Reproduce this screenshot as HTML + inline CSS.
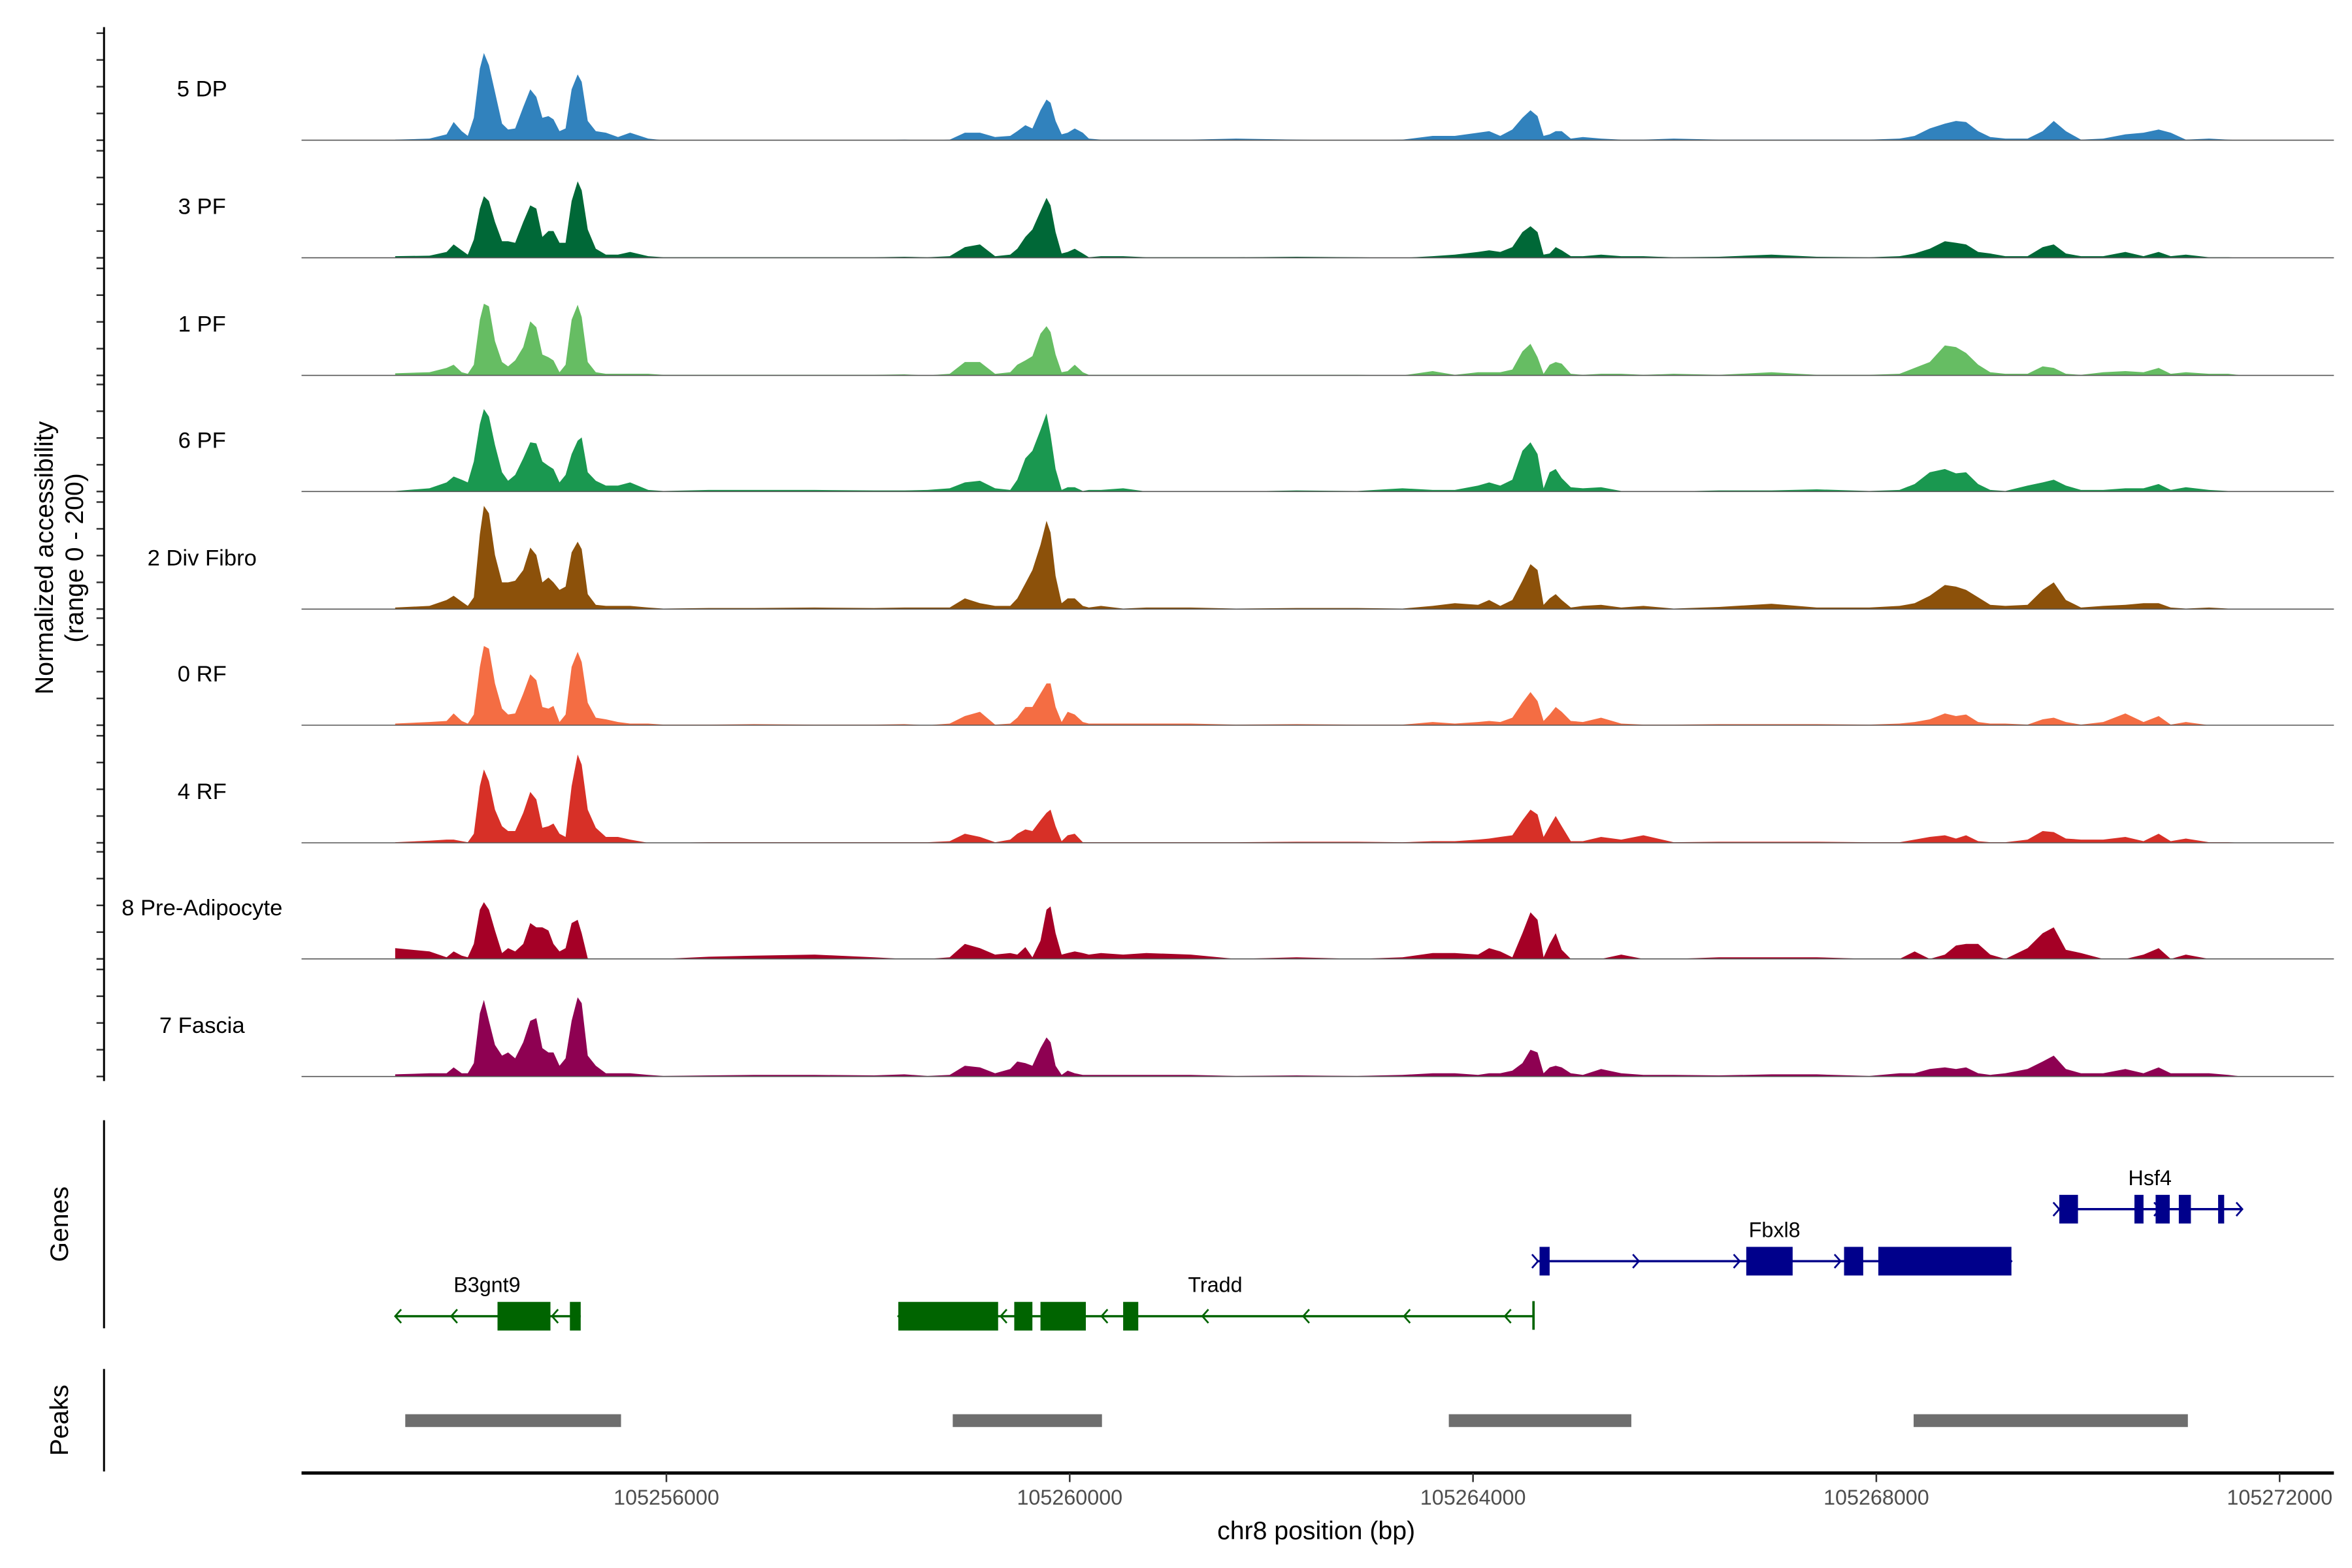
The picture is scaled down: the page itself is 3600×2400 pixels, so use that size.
<!DOCTYPE html>
<html><head><meta charset="utf-8"><style>
html,body{margin:0;padding:0;background:#fff;}
svg{display:block;}
text{font-family:"Liberation Sans",Arial,sans-serif;}
</style></head><body>
<svg id="chart" xmlns="http://www.w3.org/2000/svg" width="3600" height="2400" viewBox="0 0 1560 1040">
<rect x="0" y="0" width="1560" height="1040" fill="#fff"/>
<g id="tracks"></g>
<g id="genes"></g>
<g id="peaks"></g>
<g id="axes"></g>
</svg>
<script>
const positions = [105253310,105253650,105253820,105253890,105253970,105254030,105254090,105254150,105254190,105254240,105254300,105254370,105254430,105254500,105254580,105254650,105254710,105254770,105254830,105254880,105254940,105255000,105255060,105255120,105255160,105255220,105255300,105255400,105255520,105255640,105255820,105255970,
105256420,105256870,105257470,105258060,105258360,
105258590,105258810,105258960,105259110,105259260,105259410,105259480,105259560,105259630,105259710,105259770,105259810,105259860,105259920,105259980,105260050,105260130,105260190,105260310,105260530,105260760,105261200,105261650,
105262250,105262850,
105263300,105263600,105263820,105264050,105264160,105264270,105264390,105264490,105264570,105264640,105264700,105264760,105264820,105264880,105264970,105265090,105265270,105265470,105265690,105265990,
105266440,105266960,105267410,
105267930,105268230,105268380,105268530,105268680,105268790,105268890,105269010,105269130,105269280,105269500,105269650,105269760,105269880,105270030,105270250,105270470,105270650,105270800,105270920,105271070,105271300,105271490,105271630];

const trackNames = ["5 DP","3 PF","1 PF","6 PF","2 Div Fibro","0 RF","4 RF","8 Pre-Adipocyte","7 Fascia"];
const trackColors = ["#3182BD","#006837","#66BD63","#1A9850","#8C510A","#F46D43","#D73027","#A50026","#8E0152"];

const dp5 = [1,3,11,34,17,8,42,134,163,140,90,31,20,22,62,95,81,42,45,39,17,22,95,123,109,36,17,14,6,14,3,0,
0,0,0,0,1,
0,1,14,14,6,8,17,28,22,56,76,70,36,11,14,22,14,3,1,1,1,1,3,
1,0,
1,8,8,14,17,8,20,42,56,45,8,11,17,17,3,6,3,1,1,3,
1,1,1,
1,3,8,22,31,36,34,17,6,3,3,17,36,17,1,3,11,14,20,14,1,3,1,0];
const pf3 = [3,4,11,25,14,6,34,92,115,106,67,31,31,28,67,98,92,39,50,50,28,28,106,143,126,53,17,6,6,11,3,1,
1,1,1,1,2,
1,3,20,25,3,6,17,39,53,87,112,98,48,8,11,17,8,1,3,3,1,1,1,
2,1,
0,3,6,11,14,11,20,48,59,48,6,8,20,14,3,3,6,3,3,1,
2,6,2,
1,3,8,17,31,28,25,11,8,3,3,20,25,8,3,3,11,3,11,3,6,1,1,0];
const pf1 = [4,6,14,20,6,3,20,104,134,129,64,25,17,28,53,101,90,39,34,28,6,20,104,132,109,25,6,3,3,3,3,1,
1,1,1,1,2,
0,3,25,25,3,6,20,28,36,78,92,81,39,6,8,20,6,1,1,1,1,1,1,
1,1,
0,8,1,6,6,6,11,45,59,34,3,20,25,22,3,1,3,3,1,3,
1,6,1,
1,3,14,25,56,53,42,20,6,3,3,17,14,3,1,6,8,6,14,3,6,3,3,0];
const pf6 = [1,6,17,28,22,17,56,126,154,140,87,36,20,31,62,92,90,56,48,42,17,31,70,95,101,36,20,11,11,17,3,1,
3,3,3,2,2,
3,6,17,20,6,3,22,62,76,115,146,106,42,3,8,8,1,3,3,6,0,0,0,
2,1,
6,3,3,11,17,11,22,76,92,70,6,36,42,25,8,6,8,1,0,0,
2,2,4,
1,3,14,36,42,34,36,14,3,1,11,17,22,11,3,3,6,6,14,3,8,3,1,0];
const divFibro2 = [3,6,17,25,14,6,22,140,193,179,101,50,50,53,73,115,101,50,59,50,36,42,106,126,112,28,8,6,6,6,3,1,
2,2,3,2,3,
3,3,20,11,6,6,20,48,73,120,165,143,62,11,20,20,6,3,6,1,3,3,1,
2,2,
1,6,11,8,17,6,17,53,84,73,8,20,28,17,3,6,8,3,6,1,
4,10,3,
3,6,11,25,45,42,36,22,8,6,8,36,50,17,3,6,8,11,11,3,1,3,1,0];
const rf0 = [3,6,8,22,8,3,20,109,148,143,78,31,20,22,59,95,84,34,31,36,6,20,109,137,118,42,14,11,6,3,3,1,
1,2,1,1,2,
0,3,17,25,1,3,14,34,34,59,78,78,34,6,25,20,6,3,3,3,3,3,1,
2,1,
1,6,3,6,8,6,14,42,62,45,8,20,34,25,8,6,14,3,1,1,
2,2,2,
1,3,6,11,22,17,20,6,3,3,1,11,14,6,1,6,22,6,17,1,6,0,0,0];
const rf4 = [1,4,6,6,3,1,17,106,137,115,62,31,22,22,56,95,81,28,31,36,17,11,106,165,146,62,28,11,11,6,0,0,
1,1,1,1,1,
1,3,17,11,1,6,17,25,22,42,56,62,31,3,14,17,1,1,1,1,1,1,1,
2,2,
1,3,3,6,8,11,14,42,62,53,11,31,50,31,3,3,11,6,14,1,
2,2,2,
1,1,6,11,14,8,14,3,1,1,6,22,20,8,6,6,11,3,17,3,8,1,1,0];
const preAdipocyte8 = [20,14,3,14,6,3,28,92,106,92,53,11,20,14,28,67,59,59,53,28,14,20,67,73,48,1,0,0,0,0,0,0,
4,6,8,3,0,
0,3,28,20,8,11,8,22,3,34,92,98,48,8,11,14,11,8,11,8,11,8,0,
3,0,
3,11,11,8,20,14,3,48,87,73,3,28,48,17,0,0,0,8,0,0,
3,3,3,
0,0,14,0,8,25,28,28,8,0,20,48,59,17,11,0,0,8,20,0,8,0,0,0];
const fascia7 = [4,6,6,17,6,6,25,118,143,104,59,39,45,34,64,104,109,53,45,45,20,34,104,148,137,39,20,6,6,6,3,1,
2,3,3,2,4,
1,3,20,17,6,14,28,25,20,53,73,64,20,3,11,6,3,3,3,3,3,3,1,
2,1,
3,6,6,3,6,6,11,25,50,45,6,17,20,17,6,3,14,6,3,3,
2,4,4,
1,6,6,14,17,14,17,6,3,6,14,28,39,14,6,6,14,6,17,6,6,6,3,0];
const trackValues = [dp5,pf3,pf1,pf6,divFibro2,rf0,rf4,preAdipocyte8,fascia7];

const xTicks = [105256000,105260000,105264000,105268000,105272000];
const xTickLabels = ["105256000","105260000","105264000","105268000","105272000"];
const yMax = 200;
const yTickValues = [0,50,100,150,200];

const geneNames = ["B3gnt9","Tradd","Fbxl8","Hsf4"];
const geneStarts = [105253310,105258300,105264630,105269800];
const geneEnds = [105255150,105264600,105269340,105271630];
const geneStrands = ["-","-","+","+"];
const geneRows = [0,0,1,2];
const geneExons = [
  [[105254325,105254850],[105255043,105255150]],
  [[105258300,105259290],[105259450,105259630],[105259710,105260160],[105260530,105260680]],
  [[105264660,105264760],[105266710,105267170],[105267680,105267870],[105268020,105269340]],
  [[105269815,105270000],[105270560,105270650],[105270770,105270910],[105271000,105271120],[105271390,105271450]]
];
const geneColors = {"-":"#006400","+":"#00008B"};
const peakStarts = [105253410,105258840,105263760,105268370];
const peakEnds = [105255550,105260320,105265570,105271090];

const NS = "http://www.w3.org/2000/svg";
function mk(tag, attrs, parent){const e=document.createElementNS(NS,tag);for(const k in attrs)e.setAttribute(k,attrs[k]);parent.appendChild(e);return e;}
function xScale(bp){return 442 + (bp-105256000)*267.5/4000;}
const baselines = [93,171,249,326,404,481,559,636,714];
const panelH = 71;
function yScale(v,i){return baselines[i] - v/yMax*panelH;}

const tracksG = document.getElementById('tracks');
const axesG = document.getElementById('axes');

trackValues.forEach((vals,i)=>{
  const g = mk('g',{},tracksG);
  
  
  let d = 'M'+xScale(positions[0]).toFixed(2)+','+baselines[i];
  vals.forEach((v,j)=>{ d += ' L'+xScale(positions[j]).toFixed(2)+','+yScale(v,i).toFixed(2); });
  d += ' L'+xScale(positions[positions.length-1]).toFixed(2)+','+baselines[i]+' Z';
  const p = mk('path',{d:d,fill:trackColors[i],stroke:'none'},g);
  
  
  const bl = mk('line',{x1:200,x2:1548,y1:baselines[i],y2:baselines[i],stroke:'#555','stroke-width':0.7},g);
  
  
  const t = mk('text',{x:134,y:baselines[i]-29,'text-anchor':'middle','font-size':15,fill:'#000'},g);
  t.textContent = trackNames[i];
  
  
  yTickValues.forEach(tv=>{
    const tk = mk('line',{x1:64,x2:69,y1:yScale(tv,i),y2:yScale(tv,i),stroke:'#333','stroke-width':1.1},axesG);
    
    
  });
});

let ya = mk('line',{x1:69,x2:69,y1:18,y2:717,stroke:'#000','stroke-width':1.3},axesG);


let yt = mk('text',{transform:'translate(35,370) rotate(-90)','text-anchor':'middle','font-size':17,fill:'#000'},axesG);
yt.textContent='Normalized accessibility';


let yt2 = mk('text',{transform:'translate(55,370) rotate(-90)','text-anchor':'middle','font-size':17,fill:'#000'},axesG);
yt2.textContent='(range 0 - 200)';



const genesG = document.getElementById('genes');
const rowY = [873,836.5,802];
let ga = mk('line',{x1:69,x2:69,y1:743,y2:881,stroke:'#000','stroke-width':1.3},genesG);


let gl = mk('text',{transform:'translate(45,812) rotate(-90)','text-anchor':'middle','font-size':17,fill:'#000'},genesG);
gl.textContent='Genes';


geneNames.forEach((nm,i)=>{
  const col = geneColors[geneStrands[i]];
  const y = rowY[geneRows[i]];
  const g = mk('g',{},genesG);
  
  
  const x1 = xScale(geneStarts[i]), x2 = xScale(geneEnds[i]);
  mk('line',{x1:x1,x2:x2,y1:y,y2:y,stroke:col,'stroke-width':1.5},g);
  for(let bp = geneStarts[i]; bp <= geneEnds[i]; bp += 1000){
    let cx = geneStrands[i]==='-' ? xScale(geneEnds[i]-(bp-geneStarts[i])) - 18 : xScale(bp);
    const s = geneStrands[i]==='-' ? -1 : 1;
    mk('path',{d:`M${cx-3*s},${y-4.5} L${cx+1*s},${y} L${cx-3*s},${y+4.5}`,fill:'none',stroke:col,'stroke-width':1.2},g);
  }
  if(geneStrands[i]==='-'){
    mk('path',{d:`M${x1+4},${y-4.5} L${x1},${y} L${x1+4},${y+4.5}`,fill:'none',stroke:col,'stroke-width':1.2},g);
  } else {
    mk('path',{d:`M${x2-4},${y-4.5} L${x2},${y} L${x2-4},${y+4.5}`,fill:'none',stroke:col,'stroke-width':1.2},g);
  }
  if(nm==='Tradd') mk('line',{x1:x2,x2:x2,y1:y-10,y2:y+9,stroke:col,'stroke-width':1.6},g);
  geneExons[i].forEach(ex=>{
    const r = mk('rect',{x:xScale(ex[0]),y:y-9.5,width:Math.max(1.5,xScale(ex[1])-xScale(ex[0])),height:19,fill:col},g);
    
    
  });
  const lx = {B3gnt9:323,Tradd:806,Fbxl8:1177,Hsf4:1426}[nm];
  const lt = mk('text',{x:lx,y:y-16,'text-anchor':'middle','font-size':14,fill:'#000'},g);
  lt.textContent = nm;
  
  
});

const peaksG = document.getElementById('peaks');
let pa = mk('line',{x1:69,x2:69,y1:908,y2:976,stroke:'#000','stroke-width':1.3},peaksG);


let pl = mk('text',{transform:'translate(45,942) rotate(-90)','text-anchor':'middle','font-size':17,fill:'#000'},peaksG);
pl.textContent='Peaks';


peakStarts.forEach((s,i)=>{
  const r = mk('rect',{x:xScale(s),y:938,width:xScale(peakEnds[i])-xScale(s),height:8.5,fill:'#6e6e6e'},peaksG);
  
  
});

let xa = mk('line',{x1:200,x2:1548,y1:977,y2:977,stroke:'#000','stroke-width':2.2},axesG);


xTicks.forEach((t,i)=>{
  const tk = mk('line',{x1:xScale(t),x2:xScale(t),y1:977,y2:983,stroke:'#333','stroke-width':1.1},axesG);
  
  
  const tl = mk('text',{x:xScale(t),y:998,'text-anchor':'middle','font-size':14,fill:'#4d4d4d'},axesG);
  tl.textContent = xTickLabels[i];
  
  
});
let xt = mk('text',{x:873,y:1021,'text-anchor':'middle','font-size':17,fill:'#000'},axesG);
xt.textContent='chr8 position (bp)';


</script>
</body></html>
